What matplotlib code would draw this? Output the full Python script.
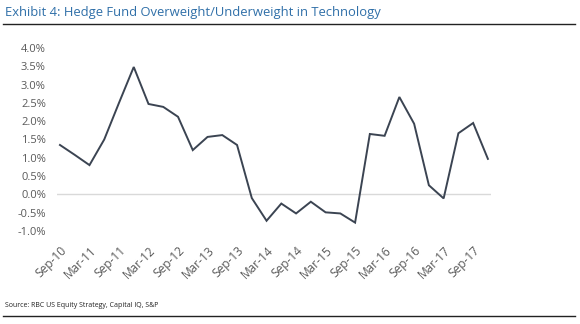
import matplotlib
matplotlib.use("Agg")
import matplotlib.pyplot as plt
from matplotlib.lines import Line2D

quarters = ["Sep-10", "Dec-10", "Mar-11", "Jun-11", "Sep-11", "Dec-11",
            "Mar-12", "Jun-12", "Sep-12", "Dec-12", "Mar-13", "Jun-13",
            "Sep-13", "Dec-13", "Mar-14", "Jun-14", "Sep-14", "Dec-14",
            "Mar-15", "Jun-15", "Sep-15", "Dec-15", "Mar-16", "Jun-16",
            "Sep-16", "Dec-16", "Mar-17", "Jun-17", "Sep-17", "Dec-17"]
values = [1.35, 1.08, 0.80, 1.50, 2.50, 3.48,
          2.47, 2.39, 2.12, 1.21, 1.57, 1.62,
          1.35, -0.10, -0.72, -0.25, -0.52, -0.20,
          -0.49, -0.52, -0.77, 1.65, 1.60, 2.66,
          1.93, 0.25, -0.11, 1.67, 1.95, 0.97]
yticks = [-1.0, -0.5, 0.0, 0.5, 1.0, 1.5, 2.0, 2.5, 3.0, 3.5, 4.0]

title = "Exhibit 4: Hedge Fund Overweight/Underweight in Technology"
source = "Source: RBC US Equity Strategy, Capital IQ, S&P"

fig = plt.figure(figsize=(5.8, 3.24), dpi=100)
fig.patch.set_facecolor("white")
ax = fig.add_axes([0.0983, 0.287, 0.748, 0.565])

x = list(range(len(quarters)))
ax.plot(x, values, color="#3b4452", lw=1.4, solid_joinstyle="miter")
ax.axhline(0, color="#d9d9d9", lw=1.0, zorder=0)

ax.set_xlim(-0.2, 29.2)
ax.set_ylim(-1.0, 4.0)
ax.set_yticks(yticks)
ax.set_yticklabels([f"{v:.1f}%" for v in yticks])
ax.set_xticks(x[::2])
ax.set_xticklabels(quarters[::2], rotation=45, ha="right", rotation_mode="anchor")
for s in ax.spines.values():
    s.set_visible(False)
ax.tick_params(axis="both", length=0, colors="#595959", labelsize=8)
ax.tick_params(axis="x", labelsize=8.6)
ax.tick_params(axis="y", pad=8)
ax.tick_params(axis="x", pad=9)
for lab in ax.get_xticklabels() + ax.get_yticklabels():
    lab.set_fontfamily("Open Sans")

fig.text(0.009, 0.962, title, color="#2f6fa8", fontsize=9.4,
         family="Open Sans", va="center", ha="left")
fig.add_artist(Line2D([0.005, 0.992], [0.925, 0.925], color="#222222", lw=1.0,
                      transform=fig.transFigure))
fig.text(0.009, 0.058, source, color="#222222", fontsize=5.0,
         family="Open Sans", va="center", ha="left")
fig.add_artist(Line2D([0.005, 0.992], [0.025, 0.025], color="#222222", lw=1.0,
                      transform=fig.transFigure))

fig.savefig("out.png", dpi=100, facecolor="white")
